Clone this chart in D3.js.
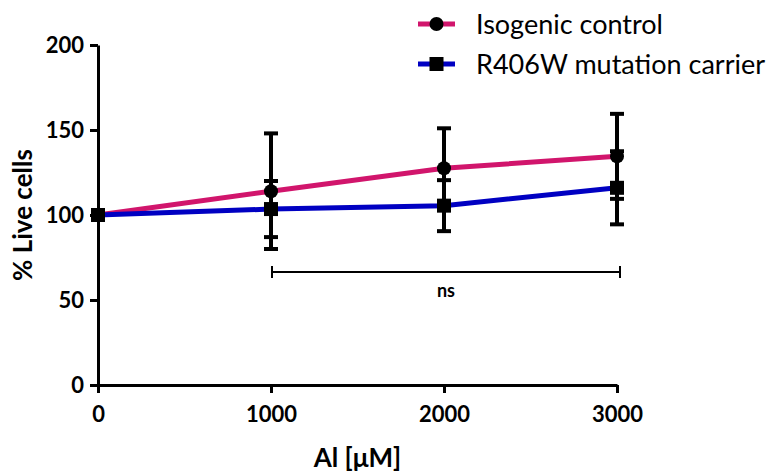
<!DOCTYPE html>
<html>
<head>
<meta charset="utf-8">
<script src="https://cdn.jsdelivr.net/npm/d3@7"></script>
<style>
  body { margin: 0; background: white; }
  text { font-family: Lato, 'Open Sans', sans-serif; }
</style>
</head>
<body>
<div id="chart"></div>
<script>
// data
let doses = [0, 1000, 2000, 3000]
let controlMean = [100, 114, 127.5, 134.5]
let controlErr = [0, 34, 23.5, 25]
let carrierMean = [100, 103.5, 105.5, 116]
let carrierErr = [0, 16.5, 15, 21.5]
let xTicks = [0, 1000, 2000, 3000]
let yTicks = [0, 50, 100, 150, 200]
let seriesNames = ['Isogenic control', 'R406W mutation carrier']

let width = 768
let height = 472

let svg = d3
  .select('#chart')
  .append('svg')
  .attr('width', width)
  .attr('height', height)

let x = d3.scaleLinear().domain([0, 3000]).range([98, 617])
let y = d3.scaleLinear().domain([0, 200]).range([385, 45])

let series = [
  { name: seriesNames[0], mean: controlMean, err: controlErr, color: '#d1156c', shape: 'circle' },
  { name: seriesNames[1], mean: carrierMean, err: carrierErr, color: '#0000c2', shape: 'square' }
]

// axes
let xAxis = svg
  .append('g')
  .attr('transform', 'translate(0,' + y(0) + ')')
  .call(d3.axisBottom(x).tickValues(xTicks).tickFormat(d3.format('d')).tickSize(8).tickSizeOuter(0).tickPadding(13))
let yAxis = svg
  .append('g')
  .attr('transform', 'translate(' + x(0) + ',0)')
  .call(d3.axisLeft(y).tickValues(yTicks).tickFormat(d3.format('d')).tickSize(8).tickSizeOuter(0).tickPadding(6))

;[xAxis, yAxis].forEach(a => {
  a.select('.domain').attr('stroke', 'black').attr('stroke-width', 3)
  a.selectAll('.tick line').attr('stroke', 'black').attr('stroke-width', 3)
  a.selectAll('.tick text')
    .attr('fill', 'black')
    .attr('font-size', 22)
    .attr('font-weight', 700)
    .style('font-family', 'Lato, sans-serif')
})
yAxis.selectAll('.tick text').attr('dy', '0.36em')

// axis titles
svg
  .append('text')
  .text('% Live cells')
  .attr('transform', 'translate(32,' + y(100) + ') rotate(-90)')
  .attr('text-anchor', 'middle')
  .attr('font-size', 26)
  .attr('font-weight', 700)

svg
  .append('text')
  .text('Al [μM]')
  .attr('x', (x(0) + x(3000)) / 2)
  .attr('y', 467)
  .attr('text-anchor', 'middle')
  .attr('font-size', 26)
  .attr('font-weight', 700)

// ns bracket
let nsY = y(66.5)
let bracket = svg.append('g')
bracket
  .append('line')
  .attr('x1', x(1000) + 1).attr('x2', x(3000) + 3)
  .attr('y1', nsY).attr('y2', nsY)
  .attr('stroke', 'black').attr('stroke-width', 2)
;[x(1000) + 1, x(3000) + 3].forEach(px => {
  bracket
    .append('line')
    .attr('x1', px).attr('x2', px)
    .attr('y1', nsY - 6).attr('y2', nsY + 6)
    .attr('stroke', 'black').attr('stroke-width', 2)
})
bracket
  .append('text')
  .text('ns')
  .attr('x', (x(1000) + x(3000)) / 2 + 2)
  .attr('y', nsY + 25)
  .attr('text-anchor', 'middle')
  .attr('font-size', 18)
  .attr('font-weight', 700)

let line = d3
  .line()
  .x((d, i) => x(doses[i]))
  .y(d => y(d))

// lines
series.forEach(s => {
  svg
    .append('path')
    .datum(s.mean)
    .attr('d', line)
    .attr('fill', 'none')
    .attr('stroke', s.color)
    .attr('stroke-width', 5)
})

// error bars
series.forEach(s => {
  let g = svg.append('g')
  s.mean.forEach((m, i) => {
    if (s.err[i] === 0) return
    let px = x(doses[i])
    g.append('line')
      .attr('x1', px).attr('x2', px)
      .attr('y1', y(m - s.err[i])).attr('y2', y(m + s.err[i]))
      .attr('stroke', 'black').attr('stroke-width', 4)
    ;[m - s.err[i], m + s.err[i]].forEach(v => {
      g.append('line')
        .attr('x1', px - 7).attr('x2', px + 7)
        .attr('y1', y(v)).attr('y2', y(v))
        .attr('stroke', 'black').attr('stroke-width', 4)
    })
  })
})

// markers
function drawMarker(g, shape, cx, cy) {
  if (shape === 'circle') {
    g.append('circle').attr('cx', cx).attr('cy', cy).attr('r', 7).attr('fill', 'black')
  } else {
    g.append('rect').attr('x', cx - 7).attr('y', cy - 7).attr('width', 14).attr('height', 14).attr('fill', 'black')
  }
}
series.forEach(s => {
  let g = svg.append('g')
  s.mean.forEach((m, i) => drawMarker(g, s.shape, x(doses[i]), y(m)))
})

// legend
series.forEach((s, i) => {
  let ly = 24 + i * 40
  let g = svg.append('g')
  g.append('line')
    .attr('x1', 418).attr('x2', 455)
    .attr('y1', ly).attr('y2', ly)
    .attr('stroke', s.color).attr('stroke-width', 5)
  drawMarker(g, s.shape, 436.5, ly)
  g.append('text')
    .text(s.name)
    .attr('x', 476)
    .attr('y', ly)
    .attr('dy', '0.36em')
    .attr('font-size', 27)
    .attr('fill', 'black')
})
</script>
</body>
</html>
